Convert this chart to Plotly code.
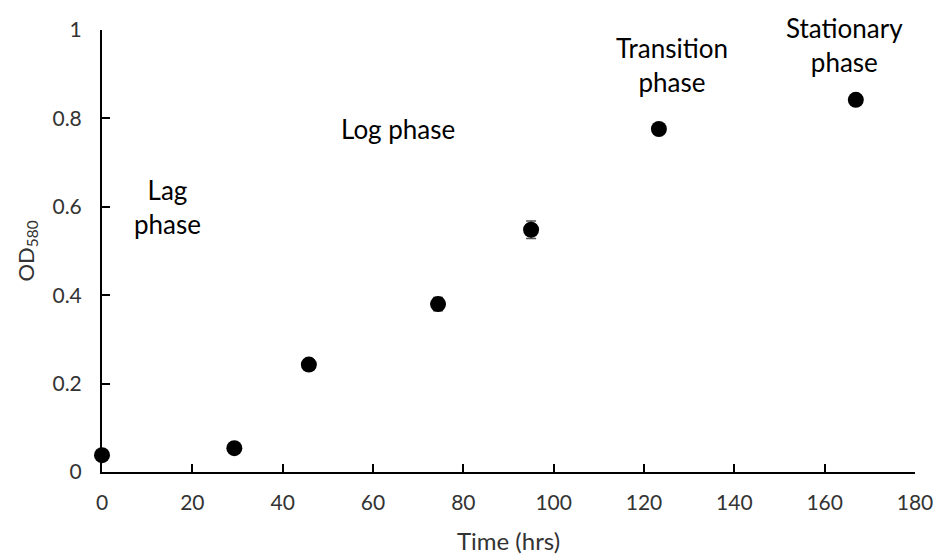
import plotly.graph_objects as go

time_hrs = [0, 29.3, 45.8, 74.4, 95.0, 123.3, 166.9]
od580 = [0.038, 0.054, 0.243, 0.380, 0.548, 0.776, 0.842]
od_err = [0.004, 0.005, 0.008, 0.015, 0.020, 0.010, 0.008]

phase_labels = ["Lag<br>phase", "Log phase", "Transition<br>phase", "Stationary<br>phase"]
phase_x = [14.6, 65.5, 126.2, 164.5]
phase_y = [0.60, 0.777, 0.92, 0.967]

x_ticks = [0, 20, 40, 60, 80, 100, 120, 140, 160, 180]
y_ticks = [0, 0.2, 0.4, 0.6, 0.8, 1]
y_tick_text = ["0", "0.2", "0.4", "0.6", "0.8", "1"]

FONT = "Lato"
LABEL_COLOR = "#333333"

fig = go.Figure()
fig.add_trace(go.Scatter(
    x=time_hrs, y=od580, mode="markers",
    marker=dict(color="black", size=16),
    error_y=dict(type="data", array=od_err, visible=True, color="#555555", thickness=1.5, width=5),
    cliponaxis=False, showlegend=False,
))

for t, xx, yy in zip(phase_labels, phase_x, phase_y):
    fig.add_annotation(x=xx, y=yy, text=t, showarrow=False,
                       font=dict(family=FONT, size=26, color="black"),
                       xanchor="center", yanchor="middle", align="center")

axis_common = dict(showline=True, linecolor="black", linewidth=2, ticks="inside",
                   ticklen=8, tickwidth=2, tickcolor="black", showgrid=False,
                   zeroline=False, mirror=False, automargin=False,
                   tickfont=dict(family=FONT, size=21, color=LABEL_COLOR))

fig.update_layout(
    width=938, height=558,
    margin=dict(l=102, r=23, t=30, b=86),
    plot_bgcolor="white", paper_bgcolor="white",
    xaxis=dict(range=[0, 180], tickvals=x_ticks, ticktext=[str(v) for v in x_ticks],
               ticklabelstandoff=11,
               title=dict(text="Time (hrs)", font=dict(family=FONT, size=24, color=LABEL_COLOR), standoff=20),
               **axis_common),
    yaxis=dict(range=[0, 1], tickvals=y_ticks, ticktext=y_tick_text,
               ticklabelstandoff=14,
               title=dict(text="OD<sub>580</sub>", font=dict(family=FONT, size=22, color=LABEL_COLOR), standoff=12),
               **axis_common),
)

fig.write_html("out.html")
